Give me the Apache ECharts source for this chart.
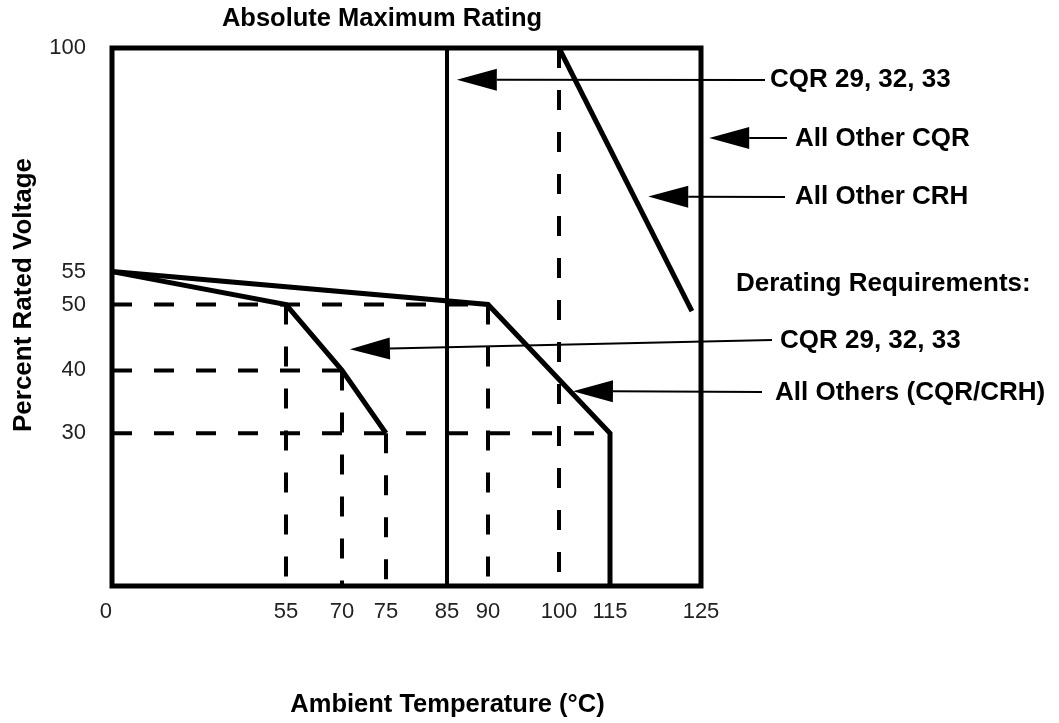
<!DOCTYPE html>
<html>
<head>
<meta charset="utf-8">
<script src="https://cdn.jsdelivr.net/npm/echarts@6/dist/echarts.min.js"></script>
<style>
  html, body { margin: 0; padding: 0; background: #fff; }
  #chart { width: 1059px; height: 723px; }
</style>
</head>
<body>
<div id="chart"></div>
<script>
// Temperature ticks (°C) and where each sits along the x axis (axis units)
const tempTicks = [0, 55, 70, 75, 85, 90, 100, 115, 125];
const tempAxisStops = [0, 174, 230, 274, 335, 376, 447, 498, 589];

// Voltage ticks (% of rated) and where each sits along the y axis
const voltTicks = [0, 30, 40, 50, 55, 100];
const voltAxisStops = [0, 153, 216, 282, 315, 539];
const voltLabelValues = [30, 40, 50, 55, 100];

// Derating requirement for CQR 29, 32, 33
const cqrDerateTemp = [0, 55, 70, 75];
const cqrDeratePct = [55, 50, 40, 30];

// Derating requirement for all others (CQR/CRH)
const otherDerateTemp = [0, 90, 115, 115];
const otherDeratePct = [55, 50, 30, 0];

// Absolute maximum rating, all other CRH
const crhMaxTemp = [100, 124];
const crhMaxPct = [100, 49];

// Absolute maximum rating, CQR 29, 32, 33
const cqrMaxTemp = [85, 85];
const cqrMaxPct = [0, 100];

// Dashed guides: horizontal [percent, fromTemp, toTemp], vertical [temp, topPercent]
const guideRows = [[50, 0, 90], [40, 0, 70], [30, 0, 115]];
const guideCols = [[55, 50], [70, 40], [75, 30], [90, 50], [100, 100]];

// Callouts: arrow tip in chart values, label text
const calloutText = ['CQR 29, 32, 33', 'All Other CQR', 'All Other CRH', 'CQR 29, 32, 33', 'All Others (CQR/CRH)'];
const calloutTip = [[86.2, 93.6], [125.9, 81.9], [119.2, 70.1], [70.9, 43.2], [104.1, 36.7]];
const calloutLabelPos = [[770, 80], [795, 139], [795, 197], [780, 341], [775, 393]];
const calloutLineEnd = [[765, 80], [787, 138], [785, 197], [772, 340], [762, 392]];

const FONT = '"Liberation Sans", Arial, Helvetica, sans-serif';

// piecewise-linear scale between tick values and axis units
function toAxis(v, ticks, stops) {
  let i = 1;
  while (i < ticks.length - 1 && v > ticks[i]) i++;
  const t = (v - ticks[i - 1]) / (ticks[i] - ticks[i - 1]);
  return stops[i - 1] + t * (stops[i] - stops[i - 1]);
}
function fromAxis(u, ticks, stops) {
  let best = 0;
  for (let i = 1; i < stops.length; i++) {
    if (Math.abs(stops[i] - u) < Math.abs(stops[best] - u)) best = i;
  }
  return ticks[best];
}
const fx = v => toAxis(v, tempTicks, tempAxisStops);
const fy = v => toAxis(v, voltTicks, voltAxisStops);
const pts = (xs, ys) => xs.map((x, i) => [fx(x), fy(ys[i])]);

const series = [];
function addLine(data, width, dashed) {
  series.push({
    type: 'line',
    data: data,
    symbol: 'none',
    silent: true,
    animation: false,
    lineStyle: {
      color: '#000',
      width: width,
      type: dashed ? [20, 22] : 'solid',
      join: 'miter',
      cap: 'butt'
    }
  });
}

guideRows.forEach(([p, t0, t1]) => addLine(pts([t0, t1], [p, p]), 4, true));
guideCols.forEach(([t, top]) => addLine(pts([t, t], [top, 0]), 4, true));
addLine(pts(cqrMaxTemp, cqrMaxPct), 4, false);
addLine(pts(crhMaxTemp, crhMaxPct), 5, false);
addLine(pts(otherDerateTemp, otherDeratePct), 5, false);
addLine(pts(cqrDerateTemp, cqrDeratePct), 5, false);

const chart = echarts.init(document.getElementById('chart'), null, { renderer: 'canvas' });

const option = {
  animation: false,
  backgroundColor: '#fff',
  title: {
    text: 'Absolute Maximum Rating',
    left: 382,
    top: 6,
    padding: 0,
    textAlign: 'center',
    textStyle: { fontFamily: FONT, fontSize: 25.5, fontWeight: 'bold', color: '#000' }
  },
  grid: {
    left: 112, right: 358, top: 48, bottom: 136,
    show: true, borderColor: '#000', borderWidth: 5, backgroundColor: 'transparent',
    containLabel: false
  },
  xAxis: {
    type: 'value',
    min: 0,
    max: tempAxisStops[tempAxisStops.length - 1],
    name: 'Ambient Temperature (°C)',
    nameLocation: 'middle',
    nameGap: 106,
    nameTextStyle: { fontFamily: FONT, fontSize: 25.5, fontWeight: 'bold', color: '#000', padding: [0, 0, 0, 82] },
    axisLine: { show: false },
    axisTick: { show: false },
    splitLine: { show: false },
    axisLabel: {
      customValues: tempTicks.map(fx),
      formatter: v => String(fromAxis(v, tempTicks, tempAxisStops)),
      margin: 15,
      alignMinLabel: 'right',
      fontFamily: FONT, fontSize: 22, color: '#222'
    }
  },
  yAxis: {
    type: 'value',
    min: 0,
    max: voltAxisStops[voltAxisStops.length - 1],
    name: 'Percent Rated Voltage',
    nameLocation: 'middle',
    nameGap: 75,
    nameTextStyle: { fontFamily: FONT, fontSize: 26, fontWeight: 'bold', color: '#000', padding: [0, 0, 0, 44] },
    axisLine: { show: false },
    axisTick: { show: false },
    splitLine: { show: false },
    axisLabel: {
      customValues: voltLabelValues.map(fy),
      formatter: v => String(fromAxis(v, voltTicks, voltAxisStops)),
      margin: 26,
      fontFamily: FONT, fontSize: 22, color: '#222'
    }
  },
  series: series
};

chart.setOption(option);

// callout arrows and labels, anchored to the chart's own coordinate system
const graphics = [];
calloutTip.forEach((tip, i) => {
  const p = chart.convertToPixel({ gridIndex: 0 }, [fx(tip[0]), fy(tip[1])]);
  const end = calloutLineEnd[i];
  const dx = end[0] - p[0], dy = end[1] - p[1];
  const len = Math.hypot(dx, dy);
  const ux = dx / len, uy = dy / len;
  const headLen = 40, headHalf = 11;
  const bx = p[0] + ux * headLen, by = p[1] + uy * headLen;
  graphics.push({
    type: 'polygon',
    shape: { points: [[p[0], p[1]], [bx - uy * headHalf, by + ux * headHalf], [bx + uy * headHalf, by - ux * headHalf]] },
    style: { fill: '#000' },
    silent: true
  });
  graphics.push({
    type: 'line',
    shape: { x1: bx, y1: by, x2: end[0], y2: end[1] },
    style: { stroke: '#000', lineWidth: 2 },
    silent: true
  });
  graphics.push({
    type: 'text',
    x: calloutLabelPos[i][0],
    y: calloutLabelPos[i][1],
    style: {
      text: calloutText[i], fill: '#000',
      font: 'bold 26px ' + FONT,
      align: 'left', verticalAlign: 'middle'
    },
    silent: true
  });
});
graphics.push({
  type: 'text',
  x: 736, y: 284,
  style: {
    text: 'Derating Requirements:', fill: '#000',
    font: 'bold 26px ' + FONT,
    align: 'left', verticalAlign: 'middle'
  },
  silent: true
});

chart.setOption({ graphic: { elements: graphics } });
</script>
</body>
</html>
